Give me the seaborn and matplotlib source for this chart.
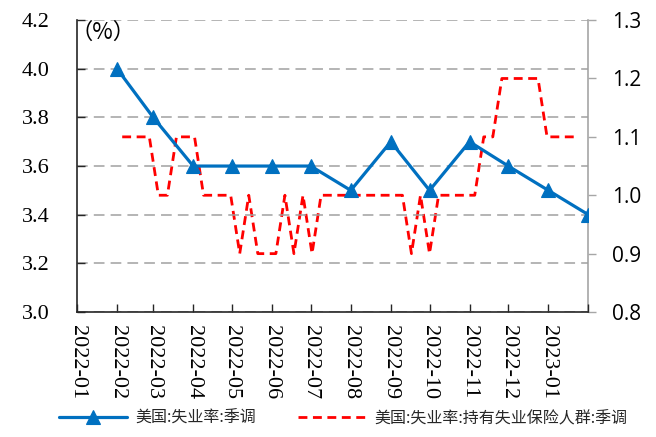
import matplotlib
matplotlib.use('Agg')
import matplotlib.pyplot as plt
from matplotlib.ticker import MultipleLocator, FormatStrFormatter
from matplotlib.font_manager import FontProperties
import seaborn as sns
import pandas as pd

# ---------------- data ----------------
unemp_dates = ['2022-02-01', '2022-03-01', '2022-04-01', '2022-05-01', '2022-06-01',
               '2022-07-01', '2022-08-01', '2022-09-01', '2022-10-01', '2022-11-01',
               '2022-12-01', '2023-01-01', '2023-02-01']
unemp_rate = [4.0, 3.8, 3.6, 3.6, 3.6, 3.6, 3.5, 3.7, 3.5, 3.7, 3.6, 3.5, 3.4]

insured_start = '2022-02-05'
insured_rate = [1.1, 1.1, 1.1, 1.1, 1.0, 1.0, 1.1, 1.1, 1.1, 1.0,
                1.0, 1.0, 1.0, 0.9, 1.0, 0.9, 0.9, 0.9, 1.0, 0.9,
                1.0, 0.9, 1.0, 1.0, 1.0, 1.0, 1.0, 1.0, 1.0, 1.0,
                1.0, 1.0, 0.9, 1.0, 0.9, 1.0, 1.0, 1.0, 1.0, 1.0,
                1.1, 1.1, 1.2, 1.2, 1.2, 1.2, 1.2, 1.1, 1.1, 1.1,
                1.1]
insured_dates = pd.date_range(insured_start, periods=len(insured_rate), freq='7D')

tick_labels = ['2022-01', '2022-02', '2022-03', '2022-04', '2022-05', '2022-06',
               '2022-07', '2022-08', '2022-09', '2022-10', '2022-11', '2022-12',
               '2023-01']
series_names = ['美国:失业率:季调', '美国:失业率:持有失业保险人群:季调']

# ---------------- style ----------------
sns.set_theme(style='white')
plt.rcParams['font.family'] = ['Liberation Serif', 'DejaVu Serif']
CJK = ['Noto Sans CJK SC', 'DejaVu Sans']

blue = '#0070C0'
red = '#FF0000'

fig = plt.figure(figsize=(6.56, 4.37), dpi=100)
ax = fig.add_axes([0.1174, 0.286, 0.7795, 0.668])
ax2 = ax.twinx()

df1 = pd.DataFrame({'date': pd.to_datetime(unemp_dates), 'rate': unemp_rate})
df2 = pd.DataFrame({'date': insured_dates, 'rate': insured_rate})

sns.lineplot(data=df1, x='date', y='rate', ax=ax, color=blue, linewidth=2.3,
             marker='^', markersize=10, markeredgecolor=blue, markeredgewidth=0.8,
             label=series_names[0], legend=False)
sns.lineplot(data=df2, x='date', y='rate', ax=ax2, color=red, linewidth=2.0,
             linestyle=(0, (3.2, 2.0)), label=series_names[1], legend=False)

ax.set_zorder(ax2.get_zorder() + 1)
ax.patch.set_visible(False)

# x axis
ax.set_xlim(pd.Timestamp('2022-01-01'), pd.Timestamp('2023-02-01'))
tick_dates = pd.to_datetime([t + '-01' for t in tick_labels] + ['2023-02-01'])
ax.set_xticks(tick_dates)
ax.set_xticklabels(tick_labels + [''], rotation=270, color='black', fontsize=16)
ax.set_xlabel('')
ax.tick_params(axis='x', bottom=True, direction='in', length=6, width=1,
               color='#262626', pad=9)

# left y axis
ax.set_ylim(3.0, 4.2)
ax.yaxis.set_major_locator(MultipleLocator(0.2))
ax.yaxis.set_major_formatter(FormatStrFormatter('%.1f'))
ax.set_ylabel('')
ax.tick_params(axis='y', left=True, direction='in', length=6, width=1,
               color='#262626', pad=20, labelcolor='black', labelsize=16)
ax.yaxis.grid(True, color='#a0a0a0', linestyle=(0, (7, 4)), linewidth=1.1)
ax.xaxis.grid(False)

# right y axis
ax2.set_ylim(0.8, 1.3)
ax2.yaxis.set_major_locator(MultipleLocator(0.1))
ax2.yaxis.set_major_formatter(FormatStrFormatter('%.1f'))
ax2.set_ylabel('')
ax2.grid(False)
ax2.tick_params(axis='y', right=True, direction='out', length=6, width=1,
                color='#a6a6a6', pad=11, labelsize=15, labelcolor='black')

for s in ['top', 'right']:
    ax.spines[s].set_visible(False)
for s in ['left', 'bottom']:
    ax.spines[s].set_color('#262626')
    ax.spines[s].set_linewidth(1.2)
for s in ['top', 'left', 'bottom']:
    ax2.spines[s].set_visible(False)
ax2.spines['right'].set_color('#a6a6a6')
ax2.spines['right'].set_linewidth(1.2)

ax.text(-0.012, 0.997, '（%）', transform=ax.transAxes, va='top', ha='left',
        fontproperties=FontProperties(family=CJK, size=16), color='black')

# legend
h1, l1 = ax.get_legend_handles_labels()
h2, l2 = ax2.get_legend_handles_labels()
fig.legend(h1 + h2, l1 + l2, loc='lower center', bbox_to_anchor=(0.523, -0.01),
           ncol=2, frameon=False, handlelength=4.3,
           handletextpad=0.5, columnspacing=2.6, numpoints=1,
           prop=FontProperties(family=CJK, size=11.5))

fig.canvas.draw()
serif_fp = FontProperties(family=['Liberation Serif', 'DejaVu Serif'], size=16)
sans_fp = FontProperties(family=['Open Sans', 'DejaVu Sans'], size=15)
for t in ax.get_xticklabels() + ax.get_yticklabels():
    t.set_fontproperties(serif_fp)
for t in ax2.get_yticklabels():
    t.set_fontproperties(sans_fp)

fig.savefig('out.png', dpi=100)
